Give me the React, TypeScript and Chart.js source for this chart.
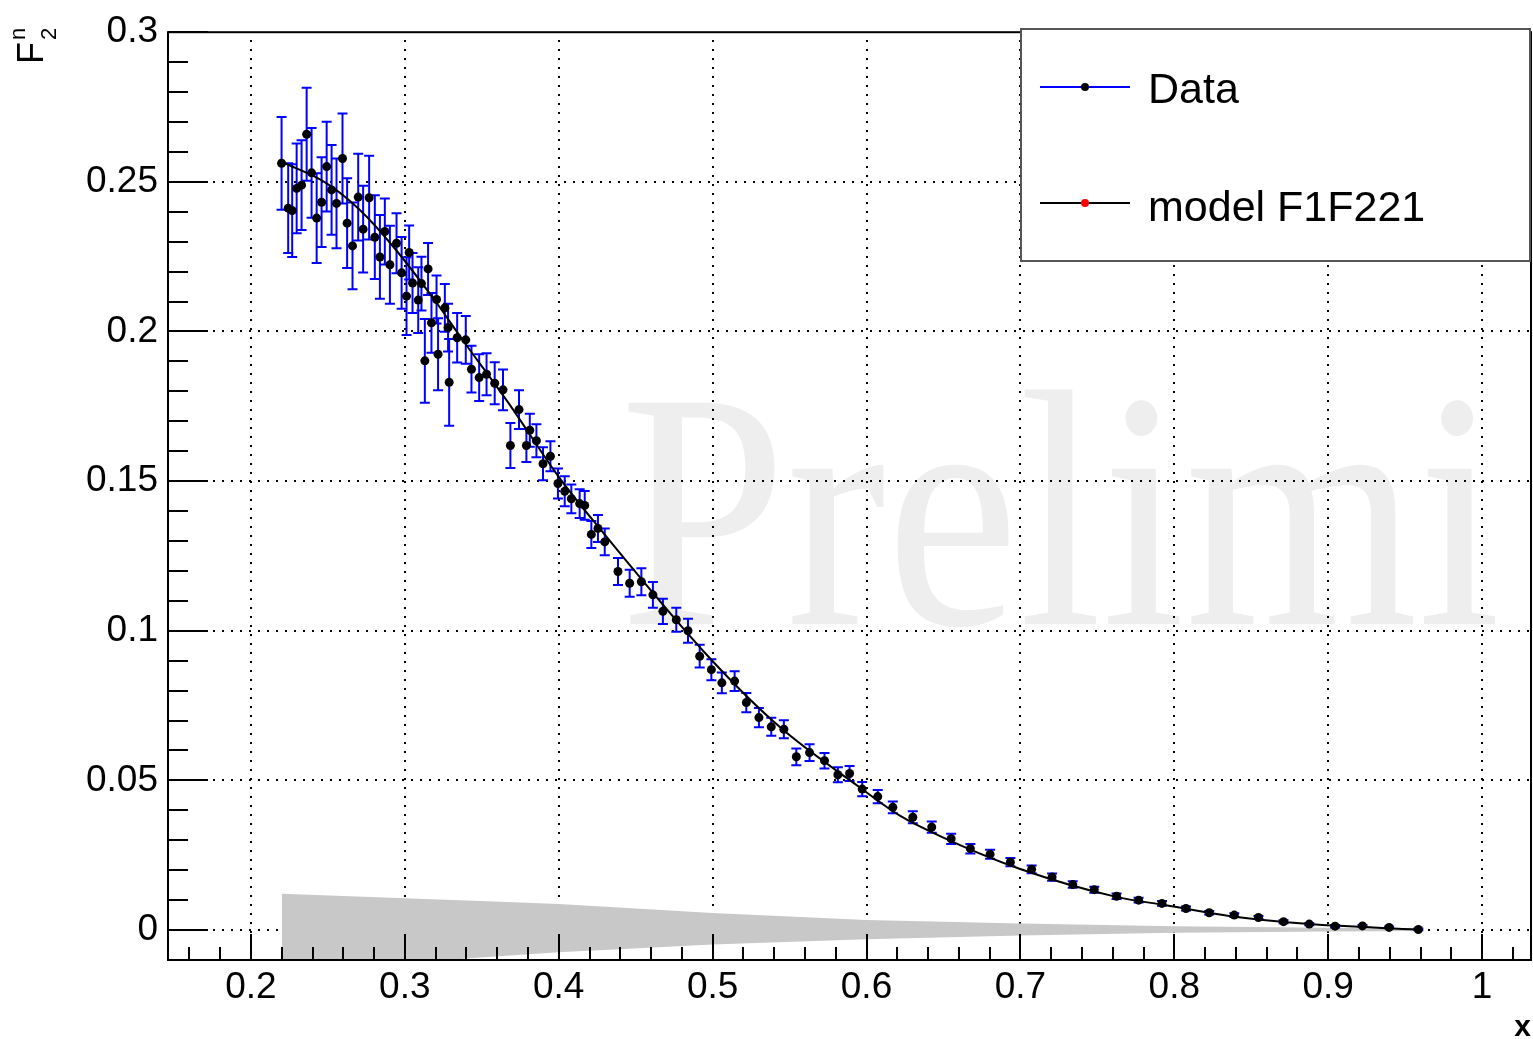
import React, { useEffect, useRef } from 'react';
import { Chart, registerables } from 'chart.js';

Chart.register(...registerables);

// ---- Data ----
const dataX = [
  0.2199, 0.2242, 0.2268, 0.2297, 0.2329, 0.2362, 0.2394, 0.2427, 0.2459, 0.2492,
  0.2524, 0.2556, 0.2595, 0.2625, 0.2660, 0.2697, 0.2729, 0.2768, 0.2805, 0.2838,
  0.2870, 0.2903, 0.2946, 0.2979, 0.3011, 0.3028, 0.3050, 0.3087, 0.3108, 0.3130,
  0.3151, 0.3173, 0.3206, 0.3216, 0.3260, 0.3281, 0.3288, 0.3340, 0.3396, 0.3433,
  0.3483, 0.3531, 0.3584, 0.3638, 0.3686, 0.3742, 0.3790, 0.3812, 0.3855, 0.3898,
  0.3946, 0.3995, 0.4039, 0.4082, 0.4136, 0.4169, 0.4212, 0.4255, 0.4299, 0.4385,
  0.4461, 0.4537, 0.4612, 0.4677, 0.4764, 0.4840, 0.4916, 0.4992, 0.5060, 0.5143,
  0.5219, 0.5301, 0.5381, 0.5463, 0.5544, 0.5630, 0.5727, 0.5814, 0.5890, 0.5972,
  0.6073, 0.6171, 0.6301, 0.6424, 0.6550, 0.6675, 0.6803, 0.6935, 0.7073, 0.7206,
  0.7340, 0.7480, 0.7625, 0.7768, 0.7920, 0.8076, 0.8227, 0.8390, 0.8547, 0.8710,
  0.8877, 0.9045, 0.9223, 0.9396, 0.9586,
];
const dataY = [
  0.2562, 0.2412, 0.2404, 0.2478, 0.2489, 0.2659, 0.2530, 0.2379, 0.2432, 0.2551,
  0.2473, 0.2428, 0.2578, 0.2362, 0.2286, 0.2449, 0.2342, 0.2447, 0.2315, 0.2249,
  0.2334, 0.2223, 0.2295, 0.2196, 0.2118, 0.2264, 0.2162, 0.2105, 0.2160, 0.1902,
  0.2209, 0.2029, 0.2107, 0.1924, 0.2079, 0.2013, 0.1830, 0.1979, 0.1972, 0.1874,
  0.1846, 0.1857, 0.1827, 0.1805, 0.1619, 0.1739, 0.1619, 0.1670, 0.1635, 0.1558,
  0.1583, 0.1492, 0.1466, 0.1441, 0.1425, 0.1419, 0.1322, 0.1342, 0.1297, 0.1198,
  0.1159, 0.1164, 0.1120, 0.1065, 0.1037, 0.1000, 0.0915, 0.0870, 0.0826, 0.0832,
  0.0760, 0.0710, 0.0679, 0.0671, 0.0579, 0.0593, 0.0566, 0.0519, 0.0523, 0.0471,
  0.0446, 0.0410, 0.0377, 0.0344, 0.0305, 0.0272, 0.0253, 0.0227, 0.0203, 0.0177,
  0.0152, 0.0135, 0.0113, 0.0100, 0.0089, 0.0072, 0.0058, 0.0050, 0.0042, 0.0028,
  0.0020, 0.0013, 0.0014, 0.0009, 0.0002,
];
const dataErr = [
  0.0155, 0.0150, 0.0155, 0.0150, 0.0150, 0.0155, 0.0150, 0.0150, 0.0150, 0.0150,
  0.0150, 0.0150, 0.0150, 0.0150, 0.0145, 0.0145, 0.0145, 0.0140, 0.0140, 0.0140,
  0.0110, 0.0130, 0.0100, 0.0120, 0.0130, 0.0090, 0.0100, 0.0110, 0.0090, 0.0140,
  0.0087, 0.0100, 0.0080, 0.0120, 0.0080, 0.0080, 0.0145, 0.0083, 0.0080, 0.0078,
  0.0078, 0.0070, 0.0070, 0.0068, 0.0075, 0.0065, 0.0055, 0.0055, 0.0055, 0.0055,
  0.0050, 0.0050, 0.0050, 0.0048, 0.0048, 0.0048, 0.0045, 0.0045, 0.0045, 0.0045,
  0.0045, 0.0045, 0.0043, 0.0042, 0.0040, 0.0040, 0.0038, 0.0035, 0.0035, 0.0033,
  0.0032, 0.0032, 0.0030, 0.0030, 0.0028, 0.0028, 0.0026, 0.0025, 0.0025, 0.0024,
  0.0022, 0.0020, 0.0020, 0.0019, 0.0017, 0.0016, 0.0015, 0.0014, 0.0013, 0.0012,
  0.0011, 0.0010, 0.0009, 0.0008, 0.0008, 0.0007, 0.0006, 0.0006, 0.0005, 0.0005,
  0.0004, 0.0004, 0.0003, 0.0003, 0.0003,
];

const modelX = [
  0.2199, 0.2492, 0.2708, 0.2924, 0.3206, 0.3357, 0.3682, 0.4006, 0.4266, 0.4981,
  0.5435, 0.5955, 0.6214, 0.6474, 0.6994, 0.7623, 0.7946, 0.8357, 0.8877, 0.9584,
];
const modelY = [
  0.2567, 0.2495, 0.2406, 0.2284, 0.2096, 0.1985, 0.1755, 0.1510, 0.1342, 0.0909,
  0.0679, 0.0477, 0.0383, 0.0315, 0.0205, 0.0111, 0.0083, 0.0047, 0.0020, 0.0002,
];

const bandX = [0.22, 0.30, 0.349, 0.40, 0.50, 0.60, 0.70, 0.80, 0.90, 0.96];
const bandHigh = [0.0121, 0.0106, 0.0097, 0.0087, 0.0057, 0.0034, 0.0022, 0.0013, 0.0008, 0.0005];
const bandLow = [-0.0135, -0.0110, -0.0092, -0.0074, -0.0048, -0.0031, -0.0018, -0.0009, -0.0005, -0.0003];

const xTickValues = [0.2, 0.3, 0.4, 0.5, 0.6, 0.7, 0.8, 0.9, 1.0];
const yTickValues = [0, 0.05, 0.1, 0.15, 0.2, 0.25, 0.3];

const seriesNames = ['Data', 'model F1F221'];
const watermarkText = 'Prelimi';
const xTitle = 'x';

const X_MIN = 0.1461;
const X_MAX = 1.0318;
const Y_MIN = -0.01;
const Y_MAX = 0.3;

const SANS = '"Liberation Sans", Arial, Helvetica, sans-serif';
const SERIF = '"Liberation Serif", "Times New Roman", serif';

const decorPlugin = {
  id: 'decor',
  beforeDatasetsDraw(chart: any) {
    const { ctx, chartArea: a, scales } = chart;
    const xs = scales.x;
    const ys = scales.y;
    ctx.save();
    ctx.beginPath();
    ctx.rect(a.left, a.top, a.right - a.left, a.bottom - a.top);
    ctx.clip();
    // watermark
    ctx.save();
    ctx.fillStyle = '#eeeeee';
    ctx.font = `338px ${SERIF}`;
    ctx.textBaseline = 'alphabetic';
    ctx.textAlign = 'left';
    ctx.translate(620, 624);
    ctx.scale(0.885, 1);
    ctx.fillText(watermarkText, 0, 0);
    ctx.restore();
    // dotted grid
    ctx.strokeStyle = '#000';
    ctx.lineWidth = 2;
    ctx.setLineDash([2, 7]);
    for (const v of xTickValues) {
      const px = Math.round(xs.getPixelForValue(v));
      ctx.beginPath();
      ctx.moveTo(px, a.bottom);
      ctx.lineTo(px, a.top);
      ctx.stroke();
    }
    for (const v of yTickValues) {
      const py = Math.round(ys.getPixelForValue(v));
      ctx.beginPath();
      ctx.moveTo(a.left, py);
      ctx.lineTo(a.right, py);
      ctx.stroke();
    }
    ctx.restore();
  },
  beforeDatasetDraw(chart: any, args: any) {
    if (args.index !== 1) return;
    const { ctx, chartArea: a, scales } = chart;
    const xs = scales.x;
    const ys = scales.y;
    ctx.save();
    ctx.beginPath();
    ctx.rect(a.left, a.top, a.right - a.left, a.bottom - a.top);
    ctx.clip();
    ctx.strokeStyle = '#0000ff';
    ctx.lineWidth = 2;
    for (let i = 0; i < dataX.length; i++) {
      const px = xs.getPixelForValue(dataX[i]);
      const yt = ys.getPixelForValue(dataY[i] + dataErr[i]);
      const yb = ys.getPixelForValue(dataY[i] - dataErr[i]);
      ctx.beginPath();
      ctx.moveTo(px, yt);
      ctx.lineTo(px, yb);
      ctx.moveTo(px - 5, yt);
      ctx.lineTo(px + 5, yt);
      ctx.moveTo(px - 5, yb);
      ctx.lineTo(px + 5, yb);
      ctx.stroke();
    }
    ctx.restore();
  },
  afterDatasetsDraw(chart: any) {
    const { ctx, chartArea: a, scales } = chart;
    const xs = scales.x;
    const ys = scales.y;
    ctx.save();
    ctx.strokeStyle = '#000';
    ctx.lineWidth = 2;
    // x ticks: major every 0.1, minor every 0.02
    for (let k = 8; k <= 51; k++) {
      const v = k * 0.02;
      if (v < X_MIN || v > X_MAX) continue;
      const major = k % 5 === 0;
      const px = Math.round(xs.getPixelForValue(v));
      ctx.beginPath();
      ctx.moveTo(px, a.bottom);
      ctx.lineTo(px, a.bottom - (major ? 26 : 13));
      ctx.stroke();
    }
    // y ticks: major every 0.05, minor every 0.01
    for (let k = -1; k <= 30; k++) {
      const v = k * 0.01;
      const major = k % 5 === 0;
      const py = Math.round(ys.getPixelForValue(v));
      ctx.beginPath();
      ctx.moveTo(a.left, py);
      ctx.lineTo(a.left + (major ? 40 : 20), py);
      ctx.stroke();
    }
    // frame
    ctx.strokeRect(a.left, a.top, a.right - a.left, a.bottom - a.top);
    ctx.restore();
  },
  afterDraw(chart: any) {
    const { ctx } = chart;
    ctx.save();
    // Legend box
    ctx.fillStyle = '#fff';
    ctx.fillRect(1021, 29, 509, 232);
    ctx.strokeStyle = '#555';
    ctx.lineWidth = 2;
    ctx.strokeRect(1021, 29, 509, 232);
    const rows = [
      { y: 87, line: '#0000ff', dot: '#000', text: seriesNames[0], base: 103 },
      { y: 203, line: '#000', dot: '#ff0000', text: seriesNames[1], base: 221 },
    ];
    for (const r of rows) {
      ctx.strokeStyle = r.line;
      ctx.lineWidth = 2;
      ctx.beginPath();
      ctx.moveTo(1040, r.y);
      ctx.lineTo(1130, r.y);
      ctx.stroke();
      ctx.fillStyle = r.dot;
      ctx.beginPath();
      ctx.arc(1085, r.y, 4, 0, Math.PI * 2);
      ctx.fill();
      ctx.fillStyle = '#000';
      ctx.font = `43px ${SANS}`;
      ctx.textAlign = 'left';
      ctx.textBaseline = 'alphabetic';
      ctx.fillText(r.text, 1148, r.base);
    }
    // x axis title
    ctx.fillStyle = '#000';
    ctx.font = `bold 30px ${SANS}`;
    ctx.textAlign = 'right';
    ctx.textBaseline = 'alphabetic';
    ctx.fillText(xTitle, 1531, 1036);
    // y axis title F^n_2 (rotated)
    ctx.translate(43, 64);
    ctx.rotate(-Math.PI / 2);
    ctx.textAlign = 'left';
    ctx.font = `36px ${SANS}`;
    ctx.fillText('F', 0, 0);
    ctx.font = `22px ${SANS}`;
    ctx.fillText('n', 24, -18);
    ctx.fillText('2', 24, 13);
    ctx.restore();
  },
};

export default function App() {
  const canvasRef = useRef<HTMLCanvasElement | null>(null);

  useEffect(() => {
    document.body.style.margin = '0';
    const canvas = canvasRef.current;
    if (!canvas) return;
    const chart = new Chart(canvas, {
      type: 'scatter',
      data: {
        datasets: [
          {
            label: seriesNames[1],
            data: modelX.map((x, i) => ({ x, y: modelY[i] })),
            showLine: true,
            borderColor: '#000',
            borderWidth: 2,
            pointRadius: 0,
            cubicInterpolationMode: 'monotone',
            fill: false,
          },
          {
            label: seriesNames[0],
            data: dataX.map((x, i) => ({ x, y: dataY[i] })),
            showLine: false,
            pointRadius: 4.5,
            pointBackgroundColor: '#000',
            pointBorderColor: '#000',
            pointBorderWidth: 0,
          },
          {
            label: 'band high',
            data: bandX.map((x, i) => ({ x, y: bandHigh[i] })),
            showLine: true,
            borderColor: 'rgba(0,0,0,0)',
            backgroundColor: '#c8c8c8',
            pointRadius: 0,
            tension: 0,
            fill: 3,
          },
          {
            label: 'band low',
            data: bandX.map((x, i) => ({ x, y: bandLow[i] })),
            showLine: true,
            borderColor: 'rgba(0,0,0,0)',
            pointRadius: 0,
            tension: 0,
            fill: false,
          },
        ],
      } as any,
      options: {
        animation: false,
        responsive: false,
        devicePixelRatio: 1,
        layout: { padding: { left: 8, top: 28, right: 2, bottom: 0 }, autoPadding: false } as any,
        plugins: {
          legend: { display: false },
          tooltip: { enabled: false },
        },
        scales: {
          x: {
            type: 'linear',
            min: X_MIN,
            max: X_MAX,
            grid: { display: false, drawTicks: false },
            border: { display: false },
            afterFit: (s: any) => {
              s.height = 79;
            },
            afterBuildTicks: (s: any) => {
              s.ticks = xTickValues.map((v) => ({ value: v }));
            },
            ticks: {
              padding: 6,
              color: '#000',
              font: { family: SANS, size: 37 },
              maxRotation: 0,
              autoSkip: false,
              callback: (v: any) => String(Number(Number(v).toFixed(2))),
            },
          },
          y: {
            type: 'linear',
            min: Y_MIN,
            max: Y_MAX,
            grid: { display: false, drawTicks: false },
            border: { display: false },
            afterFit: (s: any) => {
              s.width = 160;
            },
            afterBuildTicks: (s: any) => {
              s.ticks = yTickValues.map((v) => ({ value: v }));
            },
            ticks: {
              padding: 10,
              color: '#000',
              font: { family: SANS, size: 37 },
              autoSkip: false,
              callback: (v: any) => String(Number(Number(v).toFixed(2))),
            },
          },
        },
      } as any,
      plugins: [decorPlugin],
    });
    return () => chart.destroy();
  }, []);

  return (
    <div style={{ position: 'fixed', left: 0, top: 0, width: 1533, height: 1039, background: '#fff' }}>
      <canvas ref={canvasRef} width={1533} height={1039} style={{ width: 1533, height: 1039 }} />
    </div>
  );
}
